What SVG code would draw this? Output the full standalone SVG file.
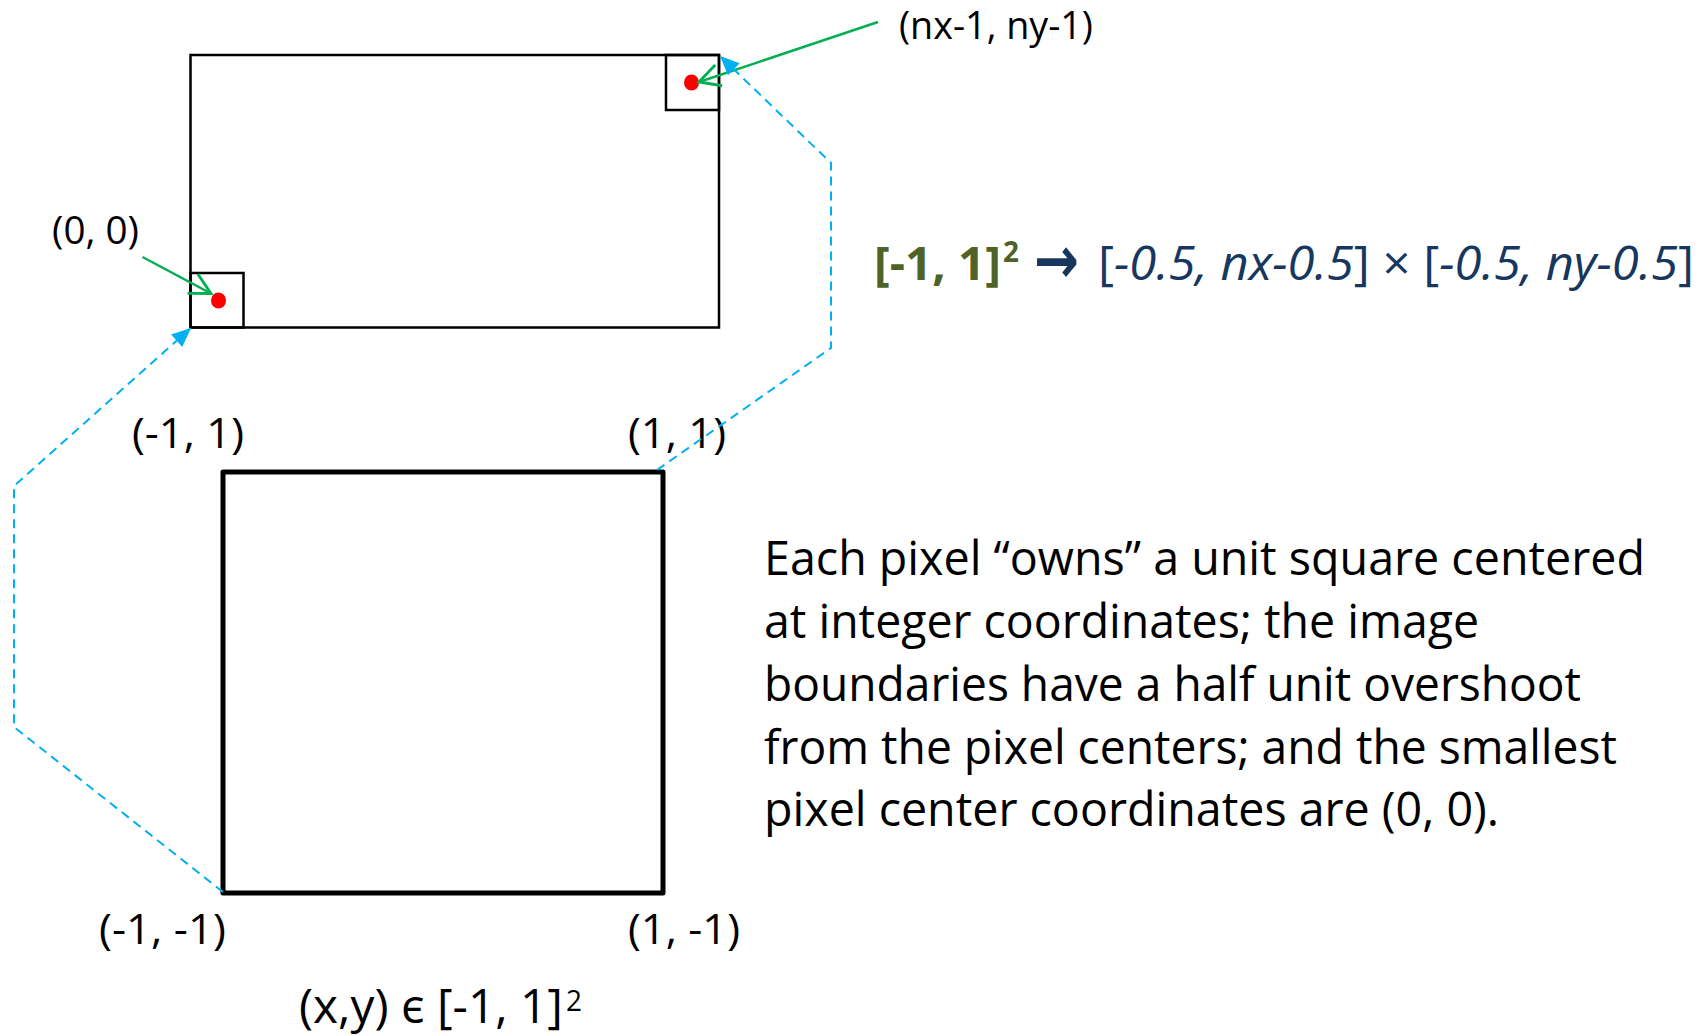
<svg xmlns="http://www.w3.org/2000/svg" width="1706" height="1036" viewBox="0 0 1706 1036">
<style>
  .t { font-family: "Open Sans", "Liberation Sans", sans-serif; fill: #000; }
  .lbl { font-size: 38px; }
  .corner { font-size: 42px; }
  .body { font-size: 47px; }
  .thin { fill: none; stroke: #000; stroke-width: 2.5; }
  .thick { fill: none; stroke: #000; stroke-width: 5; stroke-linejoin: round; }
  .dot { fill: #FF0000; }
  .green { fill: none; stroke: #00B050; stroke-width: 2.5; marker-end: url(#openArrow); }
  .blue { fill: none; stroke: #00B0F0; stroke-width: 2; stroke-dasharray: 9 6; marker-end: url(#triArrow); }
  .fg { font-family: "Open Sans", "Liberation Sans", sans-serif; font-weight: bold; fill: #4F6228; font-size: 47px; }
  .fb { font-family: "Open Sans", "Liberation Sans", sans-serif; fill: #17375E; font-size: 47px; }
</style>
<defs>
  <marker id="openArrow" markerUnits="userSpaceOnUse" markerWidth="30" markerHeight="30" viewBox="-22 -12 26 24" refX="0" refY="0" orient="auto">
    <path d="M -18 -9.5 L 0 0 L -18 9.5" fill="none" stroke="#00B050" stroke-width="2.5"/>
  </marker>
  <marker id="triArrow" markerUnits="userSpaceOnUse" markerWidth="24" markerHeight="24" viewBox="-18 -9 20 18" refX="0" refY="0" orient="auto">
    <path d="M 0 0 L -16 -7 L -16 7 Z" fill="#00B0F0"/>
  </marker>
</defs>

<rect width="1706" height="1036" fill="#FFFFFF"/>

<g id="image-rect">
  <rect class="thin" x="190.5" y="55" width="528.5" height="272.5"/>
  <rect class="thin" x="666" y="55" width="53" height="55"/>
  <rect class="thin" x="190.5" y="273" width="53" height="54.5"/>
  <ellipse class="dot" cx="691.5" cy="82.5" rx="7.5" ry="8"/>
  <ellipse class="dot" cx="218.5" cy="300.5" rx="7.5" ry="8"/>
</g>

<g id="unit-square">
  <rect class="thick" x="223" y="472" width="440" height="421"/>
</g>

<g id="labels">
  <text class="t lbl" x="899" y="39" textLength="194" lengthAdjust="spacingAndGlyphs">(nx-1, ny-1)</text>
  <text class="t lbl" x="52" y="244" textLength="87" lengthAdjust="spacingAndGlyphs">(0, 0)</text>
  <text class="t corner" x="132" y="448" textLength="112" lengthAdjust="spacingAndGlyphs">(-1, 1)</text>
  <text class="t corner" x="628" y="448" textLength="98" lengthAdjust="spacingAndGlyphs">(1, 1)</text>
  <text class="t corner" x="99" y="944" textLength="127" lengthAdjust="spacingAndGlyphs">(-1, -1)</text>
  <text class="t corner" x="628" y="944" textLength="112" lengthAdjust="spacingAndGlyphs">(1, -1)</text>
  <text class="t" x="299" y="1023" font-size="47" textLength="264" lengthAdjust="spacingAndGlyphs">(x,y) є [-1, 1]</text>
  <text class="t" x="566" y="1011" font-size="29" textLength="16" lengthAdjust="spacingAndGlyphs">2</text>
</g>

<g id="formula">
  <text class="fg" x="874" y="280" textLength="127" lengthAdjust="spacingAndGlyphs">[-1, 1]</text>
  <text class="fg" x="1003" y="262" textLength="16" lengthAdjust="spacingAndGlyphs" style="font-size:29px">2</text>
  <text x="1034" y="283" font-family="DejaVu Sans, sans-serif" font-weight="bold" font-size="66" fill="#17375E" textLength="45" lengthAdjust="spacingAndGlyphs">→</text>
  <text class="fb" x="1098" y="280" textLength="596" lengthAdjust="spacingAndGlyphs">[<tspan font-style="italic">-0.5, nx-0.5</tspan>] × [<tspan font-style="italic">-0.5, ny-0.5</tspan>]</text>
</g>

<g id="description">
  <text class="t body" x="764" y="575" textLength="881" lengthAdjust="spacingAndGlyphs">Each pixel “owns” a unit square centered</text>
  <text class="t body" x="764" y="638" textLength="715" lengthAdjust="spacingAndGlyphs">at integer coordinates; the image</text>
  <text class="t body" x="764" y="701" textLength="817" lengthAdjust="spacingAndGlyphs">boundaries have a half unit overshoot</text>
  <text class="t body" x="764" y="764" textLength="853" lengthAdjust="spacingAndGlyphs">from the pixel centers; and the smallest</text>
  <text class="t body" x="764" y="826" textLength="735" lengthAdjust="spacingAndGlyphs">pixel center coordinates are (0, 0).</text>
</g>

<g id="connectors">
  <path class="green" d="M 878 22 L 699 82"/>
  <path class="green" d="M 142.5 257 L 211 293.5"/>
  <path class="blue" d="M 657 470 L 831 348 L 831 163 L 720 56"/>
  <path class="blue" d="M 223 892 L 14 727 L 14 486 L 191 328"/>
</g>
</svg>
